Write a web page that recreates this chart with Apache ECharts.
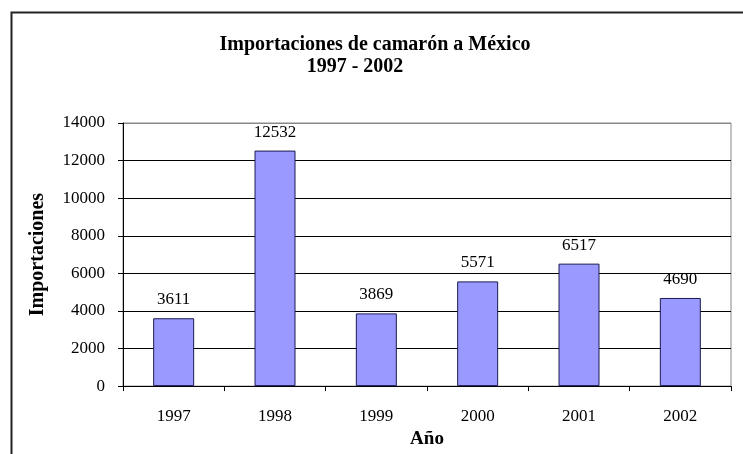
<!DOCTYPE html>
<html>
<head>
<meta charset="utf-8">
<script src="https://cdn.jsdelivr.net/npm/echarts@6/dist/echarts.min.js"></script>
<style>
html,body{margin:0;padding:0;background:#fff;}
#chart{width:743px;height:454px;}
</style>
</head>
<body>
<div id="chart"></div>
<script>
const titleLine1 = "Importaciones de camarón a México";
const titleLine2 = "1997 - 2002";
const categories = ["1997", "1998", "1999", "2000", "2001", "2002"];
const importaciones = [3611, 12532, 3869, 5571, 6517, 4690];
const xAxisName = "Año";
const yAxisName = "Importaciones";

const serif = '"Liberation Serif", "Times New Roman", serif';
const chart = echarts.init(document.getElementById('chart'), null, {renderer: 'canvas'});
chart.setOption({
  animation: false,
  backgroundColor: '#fff',
  graphic: [{
    type: 'rect', left: 9, top: 10, z: -10,
    shape: {width: 760, height: 470},
    style: {fill: 'none', stroke: '#222', lineWidth: 2}
  }],
  title: [
    {text: titleLine1, left: 370, top: 30, textAlign: 'center',
     textStyle: {fontFamily: serif, fontSize: 20, fontWeight: 'bold', color: '#000'}},
    {text: titleLine2, left: 350, top: 52, textAlign: 'center',
     textStyle: {fontFamily: serif, fontSize: 20, fontWeight: 'bold', color: '#000'}}
  ],
  grid: {left: 123, right: 12, top: 123, bottom: 64, show: true, borderColor: '#888', borderWidth: 1, backgroundColor: '#fff'},
  xAxis: {
    type: 'category', data: categories,
    name: xAxisName, nameLocation: 'middle', nameGap: 39,
    nameTextStyle: {fontFamily: serif, fontSize: 19, fontWeight: 'bold', color: '#000'},
    axisLine: {lineStyle: {color: '#000', width: 1}},
    axisTick: {show: true, length: 5, lineStyle: {color: '#000'}},
    axisLabel: {fontFamily: serif, fontSize: 17, color: '#000', margin: 22}
  },
  yAxis: {
    type: 'value', min: 0, max: 14000, interval: 2000,
    name: yAxisName, nameLocation: 'middle', nameGap: 75,
    nameTextStyle: {fontFamily: serif, fontSize: 20, fontWeight: 'bold', color: '#000'},
    axisLine: {show: true, lineStyle: {color: '#000', width: 1}},
    axisTick: {show: true, length: 5, lineStyle: {color: '#000'}},
    axisLabel: {fontFamily: serif, fontSize: 17, color: '#000', margin: 18,
      formatter: function (v) { return String(v); }},
    splitLine: {show: true, lineStyle: {color: ['#000','#000','#000','#000','#000','#000','#000','#888'], width: 1}}
  },
  series: [{
    type: 'bar', data: importaciones, barWidth: 41,
    itemStyle: {color: '#9999FF', borderColor: '#1a1a50', borderWidth: 1},
    label: {show: true, position: 'top', distance: 10, fontFamily: serif, fontSize: 17, color: '#000'}
  }]
});
</script>
</body>
</html>
